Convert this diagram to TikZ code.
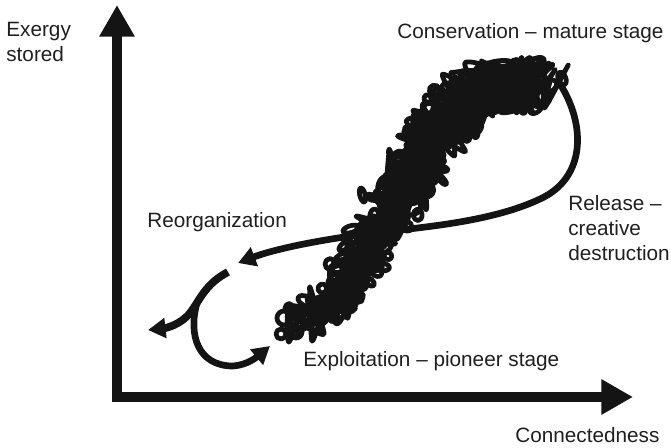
\documentclass[tikz,border=0pt]{standalone}
\usepackage{fontspec}
\setmainfont{Liberation Sans}
\usetikzlibrary{arrows.meta}
\pgfmathdeclarefunction{bandx}{1}{\pgfmathparse{(1-#1)^3*303+3*(1-#1)^2*#1*420+3*(1-#1)*#1^2*400+#1^3*550}}
\pgfmathdeclarefunction{bandy}{1}{\pgfmathparse{(1-#1)^3*326+3*(1-#1)^2*#1*230+3*(1-#1)*#1^2*76+#1^3*84}}
\tikzset{
	axis/.style={line width=5.8pt, color=black!92, -{Triangle[length=18pt,width=19pt]}},
	flow/.style={line width=3.8pt, color=black!92, -{Triangle[length=10pt,width=11pt]}},
	scribble/.style={line width=2.7pt, color=black!92, line join=round},
	label/.style={inner sep=0pt, anchor=north west, align=left, font=\fontsize{11.8}{14.2}\selectfont, color=black!88}
}

\begin{document}
\begin{tikzpicture}[x=0.02cm, y=-0.02cm]
			%%%%% START %%%%%
			\useasboundingbox (0, 0) rectangle (671, 447);
			
			\coordinate (origin) at (117, 402);
			\coordinate (corner) at (112, 397);
			\coordinate (ytip) at (117, 5);
			\coordinate (xtip) at (633, 397);
			\draw[axis] (origin) -- (ytip);
			\draw[axis] (corner) -- (xtip);
			
			\node[label] (exergy) at (6, 22) {Exergy\\stored};
			\node[label] (connected) at (515, 427) {Connectedness};
			\node[label] (conservation) at (397, 23) {Conservation -- mature stage};
			\node[label] (release) at (568, 195) {Release --\\creative\\destruction};
			\node[label] (reorg) at (147, 212) {Reorganization};
			\node[label] (exploit) at (303, 351) {Exploitation -- pioneer stage};
			
			% the dense scribble from pioneer to mature stage
			\pgfmathsetseed{17}
			\draw[scribble] plot[smooth, samples=480, domain=0:1, variable=\t]
				({bandx(\t)+(20+9*sin(90*\t))*rand}, {bandy(\t)+(20+9*sin(90*\t))*rand});
			\foreach \i in {0,...,200}{
				\pgfmathsetmacro\t{\i/200}
				\pgfmathsetmacro\w{18+9*sin(90*\t)}
				\pgfmathsetmacro\a{360*rnd}
				\draw[scribble, rotate around={\a:({bandx(\t)},{bandy(\t)})}]
					({bandx(\t)+\w*rand}, {bandy(\t)+\w*rand}) ellipse ({4+5*rnd} and {2.5+3*rnd});
			}
			\draw[scribble] (284, 318) circle (7) (296, 332) circle (6) (281, 334) circle (5);
			
			\coordinate (mature) at (560, 84);
			\coordinate (loose) at (238, 263);
			\coordinate (split) at (228, 272);
			\coordinate (left) at (148, 330);
			\coordinate (branch) at (197, 303);
			\coordinate (pioneer) at (270, 346);
			
			\draw[flow] (mature) .. controls (586, 125) and (586, 178) .. (540, 199)
				.. controls (500, 218) and (445, 225) .. (400, 230)
				.. controls (340, 236) and (280, 247) .. (loose);
			\draw[flow, line width=4.4pt] (split) .. controls (205, 284) and (200, 300) .. (190, 313)
				.. controls (180, 325) and (166, 328) .. (left);
			\draw[flow] (branch) .. controls (188, 335) and (198, 366) .. (233, 366)
				.. controls (248, 365) and (258, 356) .. (pioneer);
			
			%%%%% END %%%%%
		\end{tikzpicture}
\end{document}
